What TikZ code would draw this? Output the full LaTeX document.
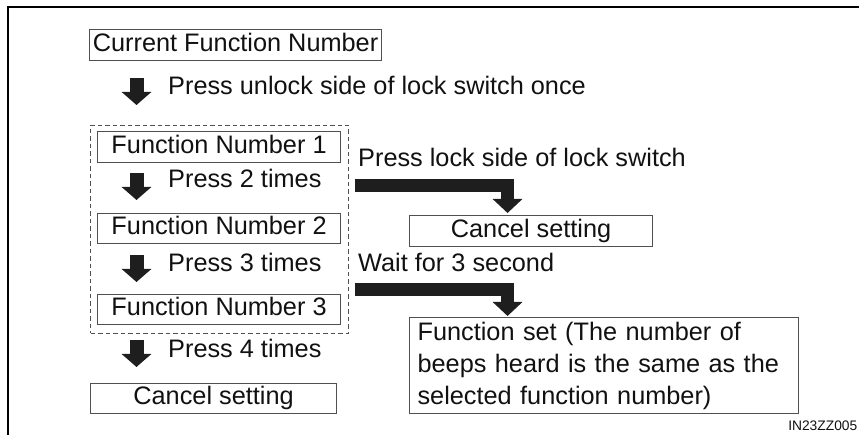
\documentclass[tikz,border=0pt]{standalone}
\usepackage{fontspec}
\setmainfont{Liberation Sans}
\usetikzlibrary{arrows.meta}
\definecolor{boxgray}{HTML}{505050}
\definecolor{arrowblack}{HTML}{1E1E1E}
\definecolor{txt}{HTML}{111111}
\begin{document}
\begin{tikzpicture}[x=1pt,y=-1pt,
  every node/.style={text=txt},
  box/.style={draw=boxgray, line width=1.1pt, minimum height=31pt, inner sep=0pt,
    text height=17.5pt, text depth=5.5pt, font=\fontsize{25.3}{30}\selectfont, anchor=north west},
  lbl/.style={anchor=base west, inner sep=0pt, font=\fontsize{25.3}{30}\selectfont},
  downarrow/.style={draw=arrowblack, line width=14pt, line cap=butt,
    -{Triangle[width=29pt,length=13pt]}},
  bentarrow/.style={draw=arrowblack, line width=13.5pt, line cap=butt, line join=miter,
    -{Triangle[width=29pt,length=14pt]}},
  grpbox/.style={draw=boxgray, line width=1pt, dash pattern=on 4.5pt off 3pt,
    minimum width=258pt, minimum height=208pt, anchor=north west, inner sep=0pt}
]
\useasboundingbox (0,0) rectangle (859,435);
% frame
\draw[line width=1.8pt, line join=miter] (8,435) -- (8,7) -- (862,7);

% left column
\node[box, minimum width=292pt] (cur) at (89,29) {Current Function Number};
\coordinate (d1s) at (136.5,78);
\coordinate (d1e) at (136.5,105);
\draw[downarrow] (d1s) -- (d1e);
\node[lbl] (l1) at (168,95) {Press unlock side of lock switch once};

\node[grpbox] (grp) at (90,125) {};
\node[box, minimum width=243pt] (f1) at (97,131) {Function Number 1};
\coordinate (d2s) at (136.5,173);
\coordinate (d2e) at (136.5,200);
\draw[downarrow] (d2s) -- (d2e);
\node[lbl] (l2) at (168,188) {Press 2 times};

\node[box, minimum width=243pt, minimum height=30pt] (f2) at (97,213) {Function Number 2};
\coordinate (d3s) at (136.5,255);
\coordinate (d3e) at (136.5,282);
\draw[downarrow] (d3s) -- (d3e);
\node[lbl] (l3) at (168,272) {Press 3 times};

\node[box, minimum width=243pt, minimum height=30pt] (f3) at (97,294) {Function Number 3};
\coordinate (d4s) at (136.5,340);
\coordinate (d4e) at (136.5,367);
\draw[downarrow] (d4s) -- (d4e);
\node[lbl] (l4) at (168,357) {Press 4 times};

\node[box, minimum width=246pt, minimum height=30pt] (cl) at (90,383) {Cancel setting};

% right column
\node[lbl] (r1) at (358,167) {Press lock side of lock switch};
\node[box, minimum width=243pt] (cr) at (409,215) {Cancel setting};
\coordinate (a1) at (355,185.5);
\draw[bentarrow] (a1) -| ([xshift=-23.5pt,yshift=2pt]cr.north);

\node[lbl] (r2) at (358,272) {Wait for 3 second};
\node[draw=boxgray, line width=1.1pt, anchor=north west, minimum width=389pt, minimum height=96pt,
  text width=373pt, inner xsep=8pt, inner ysep=0pt, align=left,
  font=\fontsize{25.3}{32}\selectfont] (fs) at (409,317)
  {Function set (The number of\\beeps heard is the same as the\\selected function number)};
\coordinate (a2) at (355,289.5);
\draw[bentarrow] (a2) -| ([xshift=-96.5pt,yshift=1pt]fs.north);

\node[anchor=base east, inner sep=0pt, font=\fontsize{13.8}{16}\selectfont] (code) at (857.5,430) {IN23ZZ005};
\end{tikzpicture}
\end{document}
